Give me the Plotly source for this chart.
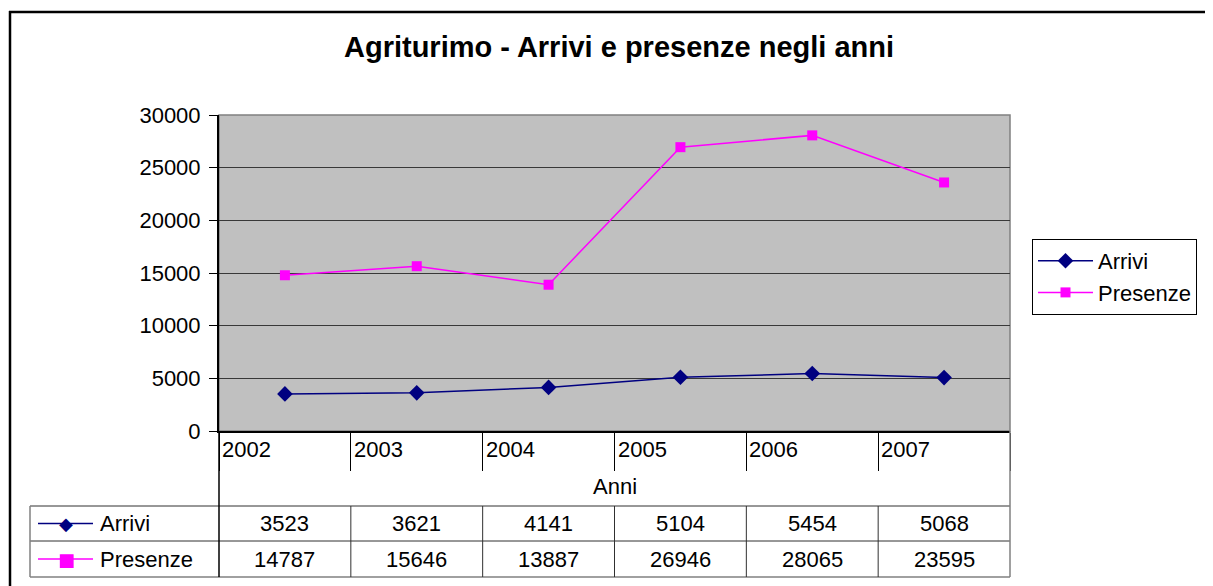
import plotly.graph_objects as go

# data
anni = ["2002", "2003", "2004", "2005", "2006", "2007"]
arrivi = [3523, 3621, 4141, 5104, 5454, 5068]
presenze = [14787, 15646, 13887, 26946, 28065, 23595]

OFF = 8                            # page body margin
W, H = 1213 - OFF, 586 - OFF
L, R, T, B = 219, 1010, 115, 431   # plot area in page pixels
FONT = "Liberation Sans, Arial, sans-serif"
FS = 22
NAVY = "#000080"
MAGENTA = "#FF00FF"


def py(p):
    # page pixel row -> paper y
    return (B - p) / (B - T)


def px_(p):
    # page pixel column -> paper x
    return (p - L) / (R - L)


xs = list(range(len(anni)))

fig = go.Figure()
fig.add_trace(go.Scatter(
    x=xs, y=arrivi, name="Arrivi", mode="lines+markers",
    line=dict(color=NAVY, width=1.5),
    marker=dict(symbol="diamond", size=12, color=NAVY),
))
fig.add_trace(go.Scatter(
    x=xs, y=presenze, name="Presenze", mode="lines+markers",
    line=dict(color=MAGENTA, width=1.5),
    marker=dict(symbol="square", size=10, color=MAGENTA),
))

shapes = []
annotations = []

# outer chart frame (only top and left edges are visible)
shapes.append(dict(type="line", xref="paper", yref="paper",
                   x0=px_(9), x1=px_(1300), y0=py(12), y1=py(12),
                   line=dict(color="black", width=2.5), layer="below"))
shapes.append(dict(type="line", xref="paper", yref="paper",
                   x0=px_(10), x1=px_(10), y0=py(11), y1=py(700),
                   line=dict(color="black", width=2.5), layer="below"))
# plot area border (top/right grey)
shapes.append(dict(type="rect", xref="paper", yref="paper",
                   x0=0, x1=1, y0=0, y1=1,
                   line=dict(color="#808080", width=1.5), layer="below"))

# data table lines
grid = "#303030"
outer = "#808080"
y_top, y_mid, y_bot = py(506), py(541), py(577)
shapes.append(dict(type="line", xref="paper", yref="paper",
                   x0=px_(30), x1=1, y0=y_top, y1=y_top, line=dict(color=grid, width=1)))
shapes.append(dict(type="line", xref="paper", yref="paper",
                   x0=px_(30), x1=1, y0=y_mid, y1=y_mid, line=dict(color=grid, width=1)))
shapes.append(dict(type="line", xref="paper", yref="paper",
                   x0=px_(30), x1=1, y0=y_bot, y1=y_bot, line=dict(color=outer, width=1.5)))
shapes.append(dict(type="line", xref="paper", yref="paper",
                   x0=px_(30), x1=px_(30), y0=y_top, y1=y_bot, line=dict(color=outer, width=1.5)))
shapes.append(dict(type="line", xref="paper", yref="paper",
                   x0=0, x1=0, y0=0, y1=y_bot, line=dict(color="black", width=1.5)))
shapes.append(dict(type="line", xref="paper", yref="paper",
                   x0=1, x1=1, y0=0, y1=y_bot, line=dict(color=outer, width=1.5)))
for i in range(1, len(anni)):
    shapes.append(dict(type="line", xref="x", yref="paper",
                       x0=i - 0.5, x1=i - 0.5, y0=y_top, y1=y_bot,
                       line=dict(color=grid, width=1)))

# category labels (left aligned in each cell) and table values
for i, a in enumerate(anni):
    annotations.append(dict(x=i - 0.5, y=py(449), xref="x", yref="paper",
                            text=a, showarrow=False, xanchor="left", yanchor="middle",
                            xshift=1, font=dict(family=FONT, size=FS, color="black")))
    annotations.append(dict(x=i, y=(y_top + y_mid) / 2, xref="x", yref="paper",
                            text=str(arrivi[i]), showarrow=False, xanchor="center",
                            yanchor="middle", font=dict(family=FONT, size=FS, color="black")))
    annotations.append(dict(x=i, y=(y_mid + y_bot) / 2, xref="x", yref="paper",
                            text=str(presenze[i]), showarrow=False, xanchor="center",
                            yanchor="middle", font=dict(family=FONT, size=FS, color="black")))

# axis title
annotations.append(dict(x=0.5, y=py(486), xref="paper", yref="paper", text="Anni",
                        showarrow=False, xanchor="center", yanchor="middle",
                        font=dict(family=FONT, size=FS, color="black")))

# legend keys inside the table
for yk, name, col, sym, sz in [((y_top + y_mid) / 2, "Arrivi", NAVY, "◆", 18),
                               ((y_mid + y_bot) / 2, "Presenze", MAGENTA, "■", 18)]:
    shapes.append(dict(type="line", xref="paper", yref="paper",
                       x0=px_(38), x1=px_(93), y0=yk, y1=yk, line=dict(color=col, width=1.5)))
    annotations.append(dict(x=px_(66), y=yk, xref="paper", yref="paper", text=sym,
                            showarrow=False, xanchor="center", yanchor="middle",
                            font=dict(family="DejaVu Sans", size=sz, color=col)))
    annotations.append(dict(x=px_(98), y=yk, xref="paper", yref="paper", text=name,
                            showarrow=False, xanchor="left", yanchor="middle",
                            font=dict(family=FONT, size=FS, color="black")))

fig.update_layout(
    width=W, height=H,
    margin=dict(l=L - OFF, r=1213 - R, t=T - OFF, b=586 - B),
    paper_bgcolor="white",
    plot_bgcolor="#C0C0C0",
    title=dict(text="<b>Agriturimo - Arrivi e presenze negli anni</b>",
               x=(619 - OFF) / W, xanchor="center", y=1 - (47 - OFF) / H, yanchor="middle",
               font=dict(family=FONT, size=29, color="black")),
    font=dict(family=FONT, size=FS, color="black"),
    xaxis=dict(range=[-0.5, len(anni) - 0.5], showgrid=False, zeroline=False,
               tickvals=[i - 0.5 for i in range(len(anni) + 1)], ticktext=[""] * (len(anni) + 1),
               ticks="outside", ticklen=38, tickcolor="black", tickwidth=1,
               showline=True, linecolor="black", linewidth=2),
    yaxis=dict(range=[0, 30000], tickvals=list(range(0, 30001, 5000)), tickformat="d",
               showgrid=True, gridcolor="#383838", gridwidth=1, zeroline=False,
               ticks="outside", ticklen=8, tickcolor="black", ticklabelstandoff=4,
               showline=True, linecolor="black", linewidth=2,
               tickfont=dict(family=FONT, size=FS)),
    legend=dict(x=px_(1032), y=py(239), xanchor="left", yanchor="top",
                bgcolor="white", bordercolor="black", borderwidth=1,
                font=dict(family=FONT, size=FS), itemwidth=55,
                tracegroupgap=0),
    showlegend=True,
    shapes=shapes,
    annotations=annotations,
)

fig.write_html("out.html", config={"displayModeBar": False})
